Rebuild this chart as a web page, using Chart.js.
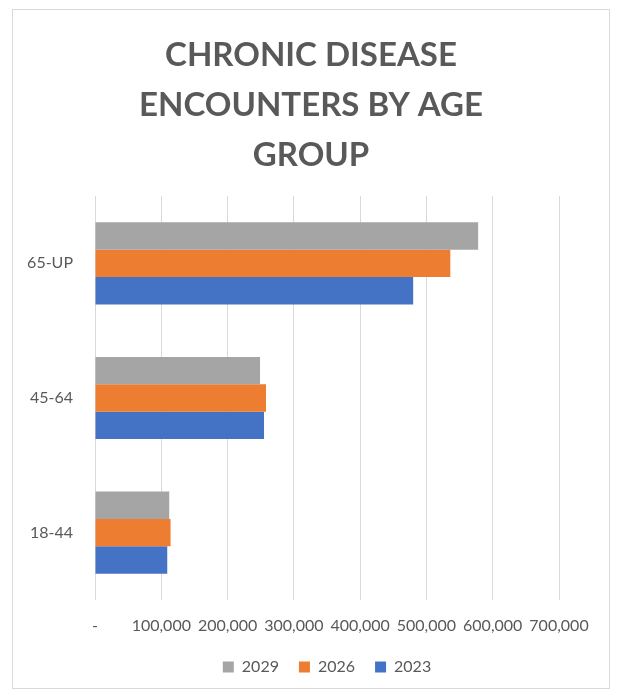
<!DOCTYPE html>
<html>
<head>
<meta charset="utf-8">
<script src="https://cdn.jsdelivr.net/npm/chart.js@4"></script>
<style>
  html, body { margin: 0; padding: 0; background: #fff; }
  #frame {
    position: absolute; left: 12px; top: 9px;
    width: 596px; height: 678px;
    border: 1px solid #d9d9d9;
  }
  #myChart { display: block; }
</style>
</head>
<body>
<div id="frame"><canvas id="myChart" width="596" height="678"></canvas></div>
<script>
var categories = ['65-UP', '45-64', '18-44'];
var seriesNames = ['2029', '2026', '2023'];
var values2029 = [578000, 249000, 112000];
var values2026 = [536000, 258000, 114000];
var values2023 = [480000, 255000, 109000];
var xTickLabels = ['-', '100,000', '200,000', '300,000', '400,000', '500,000', '600,000', '700,000'];

var textColor = '#595959';

var ctx = document.getElementById('myChart').getContext('2d');
var myChart = new Chart(ctx, {
    type: 'bar',
    data: {
        labels: categories,
        datasets: [
            { label: seriesNames[0], data: values2029, backgroundColor: '#A5A5A5' },
            { label: seriesNames[1], data: values2026, backgroundColor: '#ED7D31' },
            { label: seriesNames[2], data: values2023, backgroundColor: '#4472C4' }
        ]
    },
    options: {
        indexAxis: 'y',
        responsive: false,
        animation: false,
        categoryPercentage: 0.61,
        barPercentage: 1.0,
        layout: { padding: { left: 0, right: 0, top: 0, bottom: 3 } },
        plugins: {
            title: {
                display: true,
                text: ['CHRONIC DISEASE', 'ENCOUNTERS BY AGE', 'GROUP'],
                color: textColor,
                font: { family: 'Lato', size: 33, weight: 'bold', lineHeight: 50 / 33 },
                padding: { top: 20, bottom: 16 }
            },
            legend: {
                position: 'bottom',
                fullSize: false,
                labels: {
                    color: textColor,
                    boxWidth: 11,
                    boxHeight: 11,
                    padding: 20,
                    font: { family: 'Lato', size: 16 }
                }
            },
            tooltip: { enabled: false }
        },
        scales: {
            x: {
                min: 0,
                max: 700000,
                ticks: {
                    stepSize: 100000,
                    autoSkip: false,
                    maxRotation: 0,
                    color: textColor,
                    padding: 16,
                    font: { family: 'Lato', size: 16 },
                    callback: function (value, index) { return xTickLabels[index]; }
                },
                grid: { color: '#d9d9d9', drawTicks: false },
                border: { display: false },
                afterFit: function (scale) { scale.height = 39; }
            },
            y: {
                ticks: {
                    color: textColor,
                    padding: 14,
                    font: { family: 'Lato', size: 16 }
                },
                grid: { display: false },
                border: { display: false },
                afterFit: function (scale) { scale.width = 82; }
            },
            yRight: {
                type: 'linear',
                position: 'right',
                ticks: { display: false },
                grid: { display: false },
                border: { display: false },
                afterFit: function (scale) { scale.width = 50; }
            }
        }
    }
});
</script>
</body>
</html>
